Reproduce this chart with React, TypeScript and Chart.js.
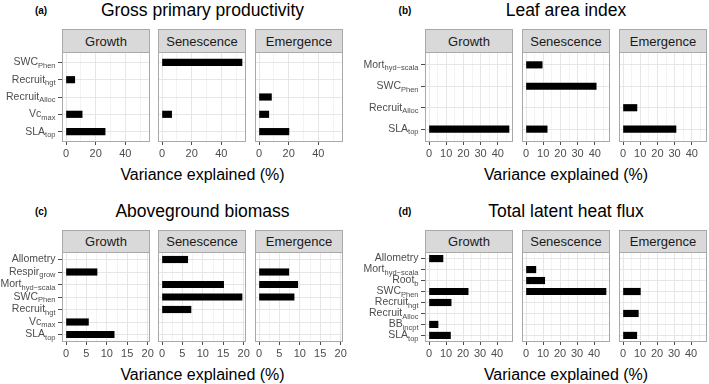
import React, { useEffect, useRef } from "react";
import { Chart, registerables } from "chart.js";

Chart.register(...registerables);

const FONT = '"Liberation Sans", Arial, Helvetica, sans-serif';

// Phenological stages, one facet each
const stages = ["Growth", "Senescence", "Emergence"];

// (a) Gross primary productivity — traits listed top to bottom
const gppTraits = ["SWC_Phen", "Recruit_hgt", "Recruit_Alloc", "Vc_max", "SLA_top"];
const gppGrowth = [null, 5.9, null, 10.9, 26.4];
const gppSenescence = [54.0, null, null, 6.5, null];
const gppEmergence = [null, null, 8.4, 6.6, 20.2];
const gppTicks = [0, 20, 40];

// (b) Leaf area index
const laiTraits = ["Mort_hyd−scala", "SWC_Phen", "Recruit_Alloc", "SLA_top"];
const laiGrowth = [null, null, null, 46.5];
const laiSenescence = [9.4, 40.8, null, 12.3];
const laiEmergence = [null, null, 8.1, 30.8];
const laiTicks = [0, 10, 20, 30, 40];

// (c) Aboveground biomass
const agbTraits = ["Allometry", "Respir_grow", "Mort_hyd−scala", "SWC_Phen", "Recruit_hgt", "Vc_max", "SLA_top"];
const agbGrowth = [null, 7.6, null, null, null, 5.5, 11.8];
const agbSenescence = [6.3, null, 15.1, 19.6, 7.1, null, null];
const agbEmergence = [null, 7.3, 9.5, 8.6, null, null, null];
const agbTicks = [0, 5, 10, 15, 20];

// (d) Total latent heat flux
const leTraits = ["Allometry", "Mort_hyd−scala", "Root_b", "SWC_Phen", "Recruit_hgt", "Recruit_Alloc", "BB_incpt", "SLA_top"];
const leGrowth = [8.2, null, null, 23.0, 13.0, null, 5.3, 12.6];
const leSenescence = [null, 5.8, 11.0, 47.0, null, null, null, null];
const leEmergence = [null, null, null, 10.2, null, 9.0, null, 8.1];
const leTicks = [0, 10, 20, 30, 40];

const X_TITLE = "Variance explained (%)";

// Layout of the 2x2 grid of panels
const FACET_W = 88;
const PLOT_H = 90;
const AXIS_H = 22;
const COLS = [
  { lefts: [62, 158, 255], tagX: 35 },
  { lefts: [425, 522, 619], tagX: 399 },
];
const ROWS = [
  { stripTop: 29, plotTop: 52, titleY: 10.5, tagY: 10, xTitleY: 174 },
  { stripTop: 230, plotTop: 252, titleY: 211.5, tagY: 211, xTitleY: 374 },
];

const GRID_MAJOR = "#e6e6e6";
const GRID_MINOR = "#f3f3f3";
const FRAME = "#a9a9a9";
const TICK_MARK = "#4d4d4d";
const TICK_TEXT = "#4d4d4d";

const PANELS = [
  { tag: "(a)", title: "Gross primary productivity", traits: gppTraits, series: [gppGrowth, gppSenescence, gppEmergence], ticks: gppTicks, col: 0, row: 0 },
  { tag: "(b)", title: "Leaf area index", traits: laiTraits, series: [laiGrowth, laiSenescence, laiEmergence], ticks: laiTicks, col: 1, row: 0 },
  { tag: "(c)", title: "Aboveground biomass", traits: agbTraits, series: [agbGrowth, agbSenescence, agbEmergence], ticks: agbTicks, col: 0, row: 1 },
  { tag: "(d)", title: "Total latent heat flux", traits: leTraits, series: [leGrowth, leSenescence, leEmergence], ticks: leTicks, col: 1, row: 1 },
];

// Outline drawn around each facet's plotting area
const panelFrame = {
  id: "panelFrame",
  afterDatasetsDraw(chart: any) {
    const { ctx, chartArea: a } = chart;
    ctx.save();
    ctx.strokeStyle = FRAME;
    ctx.lineWidth = 1;
    ctx.strokeRect(a.left + 0.5, a.top + 0.5, a.right - a.left - 1, a.bottom - a.top - 1);
    ctx.restore();
  },
};

// Trait names with subscripts ("Name_sub"), placed at the y scale positions
function traitLabels(show: boolean, traits: string[]) {
  return {
    id: "traitLabels",
    afterDraw(chart: any) {
      if (!show) return;
      const { ctx } = chart;
      const ys = chart.scales.y;
      const xEnd = chart.chartArea.left - 4 - 2.5;
      const mainFont = `10.5px ${FONT}`;
      const subFont = `7.5px ${FONT}`;
      ctx.save();
      ctx.fillStyle = TICK_TEXT;
      ctx.textBaseline = "middle";
      ctx.textAlign = "left";
      traits.forEach((t, i) => {
        const [main, sub = ""] = t.split("_");
        const y = ys.getPixelForValue(i);
        ctx.font = mainFont;
        const w1 = ctx.measureText(main).width;
        ctx.font = subFont;
        const w2 = sub ? ctx.measureText(sub).width : 0;
        ctx.font = mainFont;
        ctx.fillText(main, xEnd - w2 - w1, y);
        if (sub) {
          ctx.font = subFont;
          ctx.fillText(sub, xEnd - w2, y + 3.2);
        }
      });
      ctx.restore();
    },
  };
}

type FacetProps = {
  left: number;
  top: number;
  traits: string[];
  values: (number | null)[];
  ticks: number[];
  vmax: number;
  showY: boolean;
};

function Facet({ left, top, traits, values, ticks, vmax, showY }: FacetProps) {
  const ref = useRef<HTMLCanvasElement>(null);
  const padL = showY ? 62 : 10;
  const padR = 12;
  const w = padL + FACET_W + padR;
  const h = PLOT_H + AXIS_H;

  useEffect(() => {
    const step = ticks[1] - ticks[0];
    const lo = -0.05 * vmax;
    const hi = 1.05 * vmax;
    const minor = ticks.map((t) => t + step / 2).filter((v) => v < hi);
    const isMajor = (v: number) => ticks.includes(v);
    const points = values
      .map((v, i) => (v == null ? null : { x: v, y: i }))
      .filter(Boolean);
    const yW = showY ? 4 : 0;

    const chart = new Chart(ref.current as HTMLCanvasElement, {
      type: "bar",
      data: {
        datasets: [
          {
            data: points as any,
            backgroundColor: "#000000",
            borderColor: "#000000",
            borderWidth: 0,
            barThickness: 6.5,
          },
        ],
      },
      options: {
        indexAxis: "y",
        responsive: false,
        maintainAspectRatio: false,
        animation: false,
        layout: { padding: { left: padL - yW, right: padR, top: 0, bottom: 0 } },
        plugins: { legend: { display: false }, tooltip: { enabled: false } },
        scales: {
          x: {
            type: "linear",
            min: lo,
            max: hi,
            afterBuildTicks: (s: any) => {
              s.ticks = [...ticks, ...minor].sort((a, b) => a - b).map((v) => ({ value: v }));
            },
            afterFit: (s: any) => {
              s.height = AXIS_H;
            },
            ticks: {
              autoSkip: false,
              maxRotation: 0,
              padding: 2,
              color: TICK_TEXT,
              font: { family: FONT, size: 11 },
              callback: (v: any) => (isMajor(Number(v)) ? String(v) : ""),
            },
            grid: {
              color: (c: any) => (isMajor(c.tick.value) ? GRID_MAJOR : GRID_MINOR),
              tickColor: (c: any) => (isMajor(c.tick.value) ? TICK_MARK : "rgba(0,0,0,0)"),
              tickLength: 3,
              lineWidth: 1,
            },
            border: { display: false },
          },
          y: {
            type: "linear",
            reverse: true,
            offset: false,
            min: -0.6,
            max: traits.length - 0.4,
            afterBuildTicks: (s: any) => {
              s.ticks = traits.map((_, i) => ({ value: i }));
            },
            afterFit: (s: any) => {
              s.width = yW;
            },
            ticks: { display: false },
            grid: { offset: false, color: GRID_MAJOR, drawTicks: showY, tickLength: 4, tickColor: TICK_MARK },
            border: { display: false },
          },
        },
      } as any,
      plugins: [panelFrame, traitLabels(showY, traits)],
    });
    return () => chart.destroy();
  }, []);

  return (
    <canvas
      ref={ref}
      width={w}
      height={h}
      style={{ position: "absolute", left: left - padL, top, width: w, height: h }}
    />
  );
}

function textBox(text: string, cx: number, cy: number, size: number, extra: React.CSSProperties = {}) {
  const lh = Math.round(size * 1.3);
  return (
    <div
      style={{
        position: "absolute",
        left: cx - 200,
        width: 400,
        top: cy - lh / 2,
        height: lh,
        lineHeight: `${lh}px`,
        fontSize: size,
        textAlign: "center",
        whiteSpace: "nowrap",
        color: "#000",
        ...extra,
      }}
    >
      {text}
    </div>
  );
}

function Panel(p: (typeof PANELS)[number]) {
  const col = COLS[p.col];
  const row = ROWS[p.row];
  const all = p.series.flat().filter((v) => v != null) as number[];
  const vmax = Math.max(...all);
  const cx = (col.lefts[0] + col.lefts[2] + FACET_W) / 2;
  return (
    <>
      {textBox(p.tag, col.tagX + 6, row.tagY, 10, { fontWeight: "bold" })}
      {textBox(p.title, cx, row.titleY, 17.5)}
      {stages.map((s, k) => (
        <div
          key={s}
          style={{
            position: "absolute",
            left: col.lefts[k],
            top: row.stripTop,
            width: FACET_W,
            height: row.plotTop - row.stripTop + 1,
            boxSizing: "border-box",
            background: "#d9d9d9",
            border: `1px solid ${FRAME}`,
            display: "flex",
            alignItems: "center",
            justifyContent: "center",
            fontSize: 13,
            color: "#1a1a1a",
          }}
        >
          {s}
        </div>
      ))}
      {stages.map((s, k) => (
        <Facet
          key={s + "-chart"}
          left={col.lefts[k]}
          top={row.plotTop}
          traits={p.traits}
          values={p.series[k]}
          ticks={p.ticks}
          vmax={vmax}
          showY={k === 0}
        />
      ))}
      {textBox(X_TITLE, cx, row.xTitleY, 16)}
    </>
  );
}

export default function App() {
  return (
    <div
      style={{
        position: "absolute",
        left: 0,
        top: 0,
        width: 709,
        height: 384,
        overflow: "hidden",
        background: "#ffffff",
        fontFamily: FONT,
      }}
    >
      {PANELS.map((p) => (
        <Panel key={p.tag} {...p} />
      ))}
    </div>
  );
}
